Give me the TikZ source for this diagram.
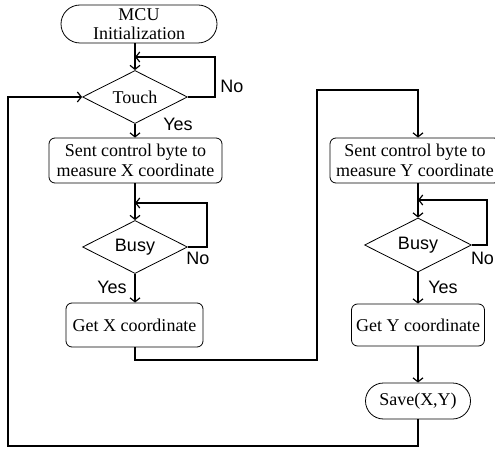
\documentclass[tikz,border=0pt]{standalone}
\usepackage{fontspec}
\setmainfont{Liberation Serif}
\setsansfont{Liberation Sans}
\usetikzlibrary{arrows.meta,shapes.geometric,shapes.misc}
\begin{document}
\begin{tikzpicture}[x=1pt,y=-1pt,
  every node/.style={font=\fontsize{18}{19.5}\selectfont, inner sep=0pt, align=center},
  procbox/.style={draw, line width=0.8pt, rectangle, rounded corners=6pt},
  termbox/.style={draw, line width=0.8pt, rounded rectangle},
  decbox/.style={draw, line width=0.8pt, diamond, aspect=2},
  lbl/.style={font=\sffamily\fontsize{18}{20}\selectfont},
  conn/.style={line width=1.5pt, -{Straight Barb[length=4pt,width=10pt,line width=1.2pt]}},
  plain/.style={line width=1.5pt}]
\useasboundingbox (0,0) rectangle (495,449);

\node[termbox, minimum width=156pt, minimum height=38pt] (mcu) at (139,24) {MCU\\Initialization};
\node[decbox, minimum width=105pt, minimum height=53pt] (touch) at (135,97) {Touch};
\node[procbox, minimum width=173pt, minimum height=45pt] (sentx) at (135.5,160.5) {Sent control byte to\\measure X coordinate};
\node[decbox, minimum width=105pt, minimum height=53pt] (busyx) at (135,247) {\sffamily Busy};
\node[procbox, minimum width=137pt, minimum height=44pt] (getx) at (134.5,325) {Get X coordinate};

\node[procbox, minimum width=170pt, minimum height=45pt] (senty) at (415,160.5) {Sent control byte to\\measure Y coordinate};
\node[decbox, minimum width=107pt, minimum height=54pt] (busyy) at (418,245) {\sffamily Busy};
\node[procbox, minimum width=133pt, minimum height=42pt] (gety) at (418,325) {Get Y coordinate};
\node[termbox, minimum width=105pt, minimum height=36pt] (save) at (418,401) {Save(X,Y)};

% labels
\node[lbl] (no1) at (232,86) {No};
\node[lbl] (yes1) at (178,124) {Yes};
\node[lbl] (no2) at (198,258) {No};
\node[lbl] (yes2) at (112,287) {Yes};
\node[lbl] (no3) at (482.5,258) {No};
\node[lbl] (yes3) at (443,287) {Yes};

% coordinates
\coordinate (t1) at (135,57);
\coordinate (t2) at (215,57);
\coordinate (bx1) at (135,203);
\coordinate (bx2) at (207,203);
\coordinate (by1) at (418,200);
\coordinate (by2) at (487,200);
\coordinate (m1) at (135,360);
\coordinate (m2) at (317,360);
\coordinate (m3) at (317,90);
\coordinate (m4) at (418,90);
\coordinate (r1) at (418,446);
\coordinate (r2) at (8,446);
\coordinate (r3) at (8,97);

% connectors
\draw[conn] (mcu.south -| touch.north) -- (touch.north);
\draw[conn] (touch.east) -| (t2) -- (t1);
\draw[conn] (touch.south) -- (sentx.north -| touch.south);
\draw[conn] (sentx.south -| busyx.north) -- (busyx.north);
\draw[conn] (busyx.east) -| (bx2) -- (bx1);
\draw[conn] (busyx.south) -- (getx.north -| busyx.south);
\draw[conn] (getx.south -| m1) -- (m1) -- (m2) -- (m3) -- (m4) -- (senty.north -| m4);
\draw[conn] (senty.south -| busyy.north) -- (busyy.north);
\draw[conn] (busyy.east) -| (by2) -- (by1);
\draw[conn] (busyy.south) -- (gety.north -| busyy.south);
\draw[conn] (gety.south -| save.north) -- (save.north);
\draw[conn] (save.south -| r1) -- (r1) -- (r2) -- (r3) -- (touch.west);
\end{tikzpicture}
\end{document}
